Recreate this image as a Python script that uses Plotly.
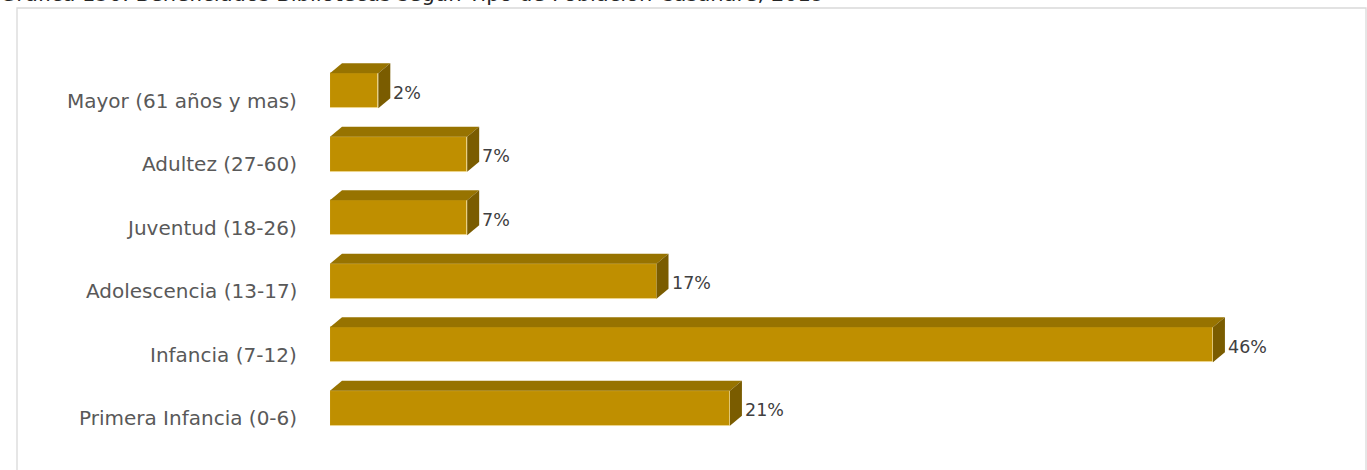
import plotly.graph_objects as go

# Data (bottom to top)
categories = ["Primera Infancia (0-6)", "Infancia (7-12)", "Adolescencia (13-17)",
              "Juventud (18-26)", "Adultez (27-60)", "Mayor (61 años y mas)"]
values = [20.7, 45.7, 16.9, 7.1, 7.1, 2.5]
labels = ["21%", "46%", "17%", "7%", "7%", "2%"]
title_text = "Gráfica 150. Beneficiados Bibliotecas según Tipo de Población Casanare, 2019"

W, H = 1367, 470
ML, MR, MT, MB = 330, 71, 59, 30
XMAX = 50
plot_w = W - ML - MR
plot_h = H - MT - MB
px_per_x = plot_w / XMAX
px_per_y = plot_h / 6.0

bar_w = 0.552
dx = 12 / px_per_x
dy = 10 / px_per_y

FRONT = "#BF8F00"
TOP = "#977300"
SIDE = "#7A5C00"

ypos = list(range(len(categories)))

fig = go.Figure()
fig.add_trace(go.Bar(
    x=values, y=ypos, orientation="h", width=bar_w,
    marker=dict(color=FRONT, line=dict(color="rgba(250,225,150,0.7)", width=0.8)),
    hoverinfo="skip", showlegend=False,
))

shapes = []
for yi, v in zip(ypos, values):
    yt = yi + bar_w / 2
    yb = yi - bar_w / 2
    top = f"M 0 {yt} L {v} {yt} L {v+dx} {yt+dy} L {dx} {yt+dy} Z"
    side = f"M {v} {yb} L {v} {yt} L {v+dx} {yt+dy} L {v+dx} {yb+dy} Z"
    shapes.append(dict(type="path", path=top, xref="x", yref="y",
                       fillcolor=TOP, line=dict(width=0)))
    shapes.append(dict(type="path", path=side, xref="x", yref="y",
                       fillcolor=SIDE, line=dict(width=0)))


def px_to_paper_x(p):
    return (p - ML) / plot_w


def px_to_paper_y(p):
    return 1 - (p - MT) / plot_h


# chart-area frame
shapes.append(dict(type="rect", xref="paper", yref="paper",
                   x0=px_to_paper_x(17), x1=px_to_paper_x(1366),
                   y0=px_to_paper_y(490), y1=px_to_paper_y(8),
                   line=dict(color="#D9D9D9", width=1.3), fillcolor="rgba(0,0,0,0)",
                   layer="below"))

annotations = []
# value labels
for yi, v, t in zip(ypos, values, labels):
    annotations.append(dict(x=v + dx, y=yi, text=t, xref="x", yref="y",
                            xanchor="left", yanchor="middle", showarrow=False,
                            xshift=1, yshift=-2,
                            font=dict(family="DejaVu Sans", size=17.5, color="#404040")))
# category labels (3D floor offset: sit a little below bar centre)
for yi, c in zip(ypos, categories):
    annotations.append(dict(x=0, y=yi, text=c, xref="paper", yref="y",
                            xanchor="right", yanchor="middle", showarrow=False,
                            xshift=-31, yshift=-10,
                            font=dict(family="DejaVu Sans", size=20, color="#595959")))

annotations.append(dict(x=px_to_paper_x(-2), y=px_to_paper_y(8.5), xref="paper", yref="paper",
                        text=title_text, xanchor="left", yanchor="bottom", showarrow=False,
                        font=dict(family="DejaVu Sans", size=21, color="#262626")))

fig.update_layout(
    width=W, height=H,
    margin=dict(l=ML, r=MR, t=MT, b=MB, autoexpand=False),
    paper_bgcolor="white", plot_bgcolor="white",
    shapes=shapes, annotations=annotations,
    xaxis=dict(range=[0, XMAX], visible=False, showgrid=False, zeroline=False, fixedrange=True),
    yaxis=dict(range=[-0.5, 5.5], tickvals=ypos, showticklabels=False,
               showgrid=False, zeroline=False, showline=False, ticks="",
               fixedrange=True),
    bargap=0,
)

fig.write_html("out.html", config={"displayModeBar": False},
               post_script="document.body.style.margin='0';document.body.style.overflow='hidden';")
